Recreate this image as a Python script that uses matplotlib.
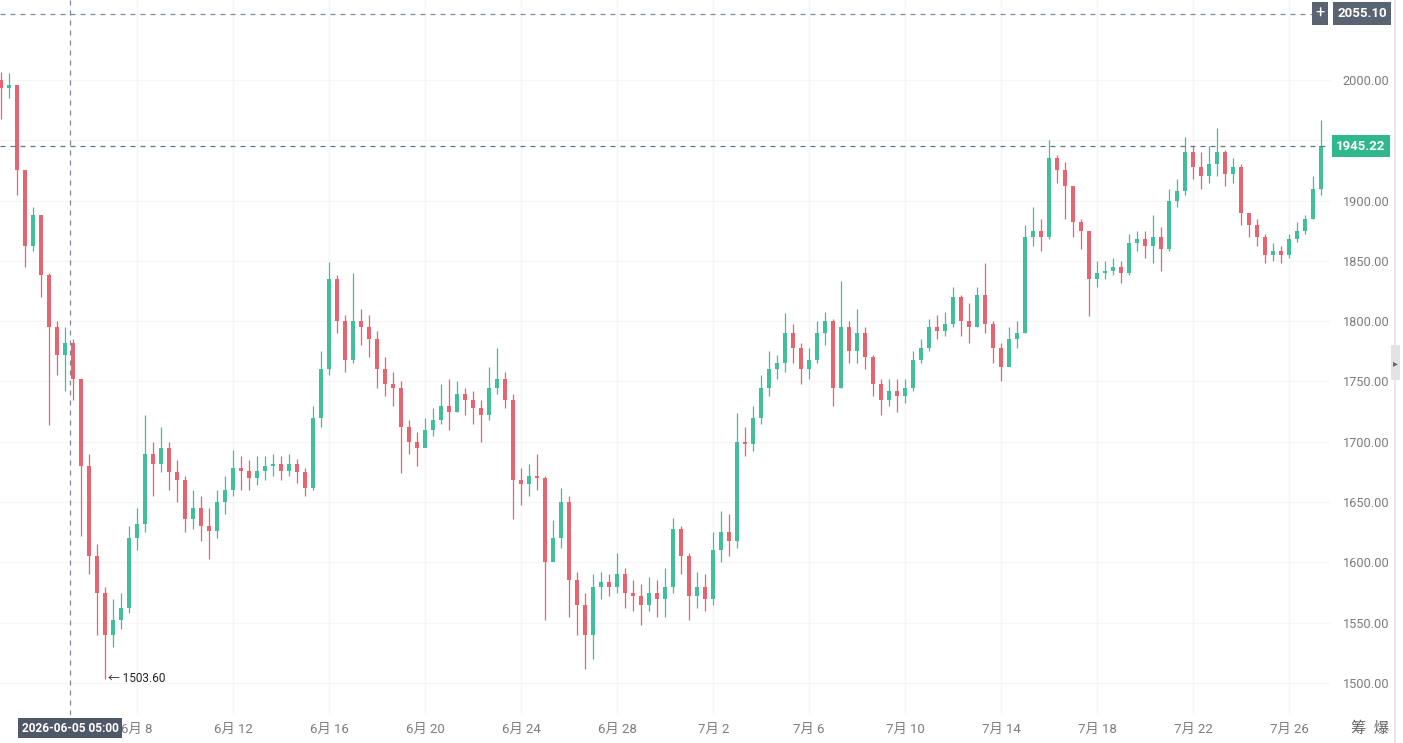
import numpy as np
import pandas as pd
import matplotlib
matplotlib.use("Agg")
import matplotlib.pyplot as plt
import matplotlib.dates as mdates
import matplotlib.transforms as mtransforms
from matplotlib.patches import Rectangle

plt.rcParams["font.family"] = ["Roboto", "Noto Sans CJK SC", "DejaVu Sans"]

# 8-hour candles, starting 2026-06-02 08:00
START = pd.Timestamp("2026-06-02 08:00")
first_open = 2000.0
close = [
    1993, 1996, 1925, 1862, 1888, 1838, 1795, 1772, 1782, 1752,
    1680, 1605, 1575, 1540, 1552, 1562, 1620, 1632, 1690, 1682,
    1695, 1675, 1668, 1636, 1645, 1630, 1626, 1650, 1660, 1678,
    1676, 1670, 1676, 1680, 1682, 1676, 1682, 1675, 1662, 1720,
    1760, 1835, 1800, 1768, 1800, 1795, 1785, 1760, 1748, 1745,
    1712, 1700, 1695, 1710, 1718, 1730, 1725, 1740, 1735, 1728,
    1722, 1745, 1752, 1735, 1668, 1665, 1672, 1670, 1600, 1620,
    1650, 1585, 1565, 1540, 1580, 1584, 1580, 1590, 1575, 1572,
    1565, 1575, 1570, 1580, 1628, 1605, 1572, 1580, 1570, 1610,
    1625, 1618, 1700, 1698, 1720, 1745, 1760, 1765, 1790, 1778,
    1760, 1768, 1790, 1800, 1745, 1795, 1775, 1790, 1770, 1748,
    1735, 1742, 1738, 1745, 1768, 1778, 1795, 1792, 1798, 1820,
    1800, 1795, 1822, 1798, 1778, 1762, 1785, 1790, 1870, 1875,
    1870, 1935, 1925, 1912, 1882, 1875, 1835, 1840, 1842, 1845,
    1840, 1865, 1868, 1862, 1870, 1860, 1900, 1908, 1940, 1928,
    1920, 1930, 1940, 1922, 1928, 1890, 1880, 1870, 1855, 1858,
    1855, 1868, 1875, 1885, 1910, 1945.22,
]
high = [
    2007, 2006, 1990, 1915, 1895, 1875, 1840, 1800, 1795, 1785,
    1752, 1690, 1615, 1580, 1570, 1575, 1630, 1645, 1722, 1700,
    1712, 1700, 1685, 1672, 1660, 1655, 1645, 1660, 1672, 1693,
    1688, 1685, 1688, 1688, 1690, 1688, 1690, 1686, 1678, 1730,
    1775, 1849, 1838, 1805, 1840, 1810, 1805, 1792, 1770, 1758,
    1750, 1718, 1708, 1720, 1728, 1748, 1752, 1750, 1745, 1742,
    1735, 1762, 1778, 1758, 1740, 1678, 1682, 1690, 1672, 1635,
    1662, 1655, 1592, 1575, 1590, 1592, 1590, 1608, 1595, 1585,
    1582, 1588, 1585, 1595, 1637, 1630, 1608, 1592, 1590, 1625,
    1643, 1640, 1724, 1712, 1730, 1755, 1775, 1772, 1807, 1798,
    1782, 1778, 1800, 1808, 1802, 1833, 1800, 1810, 1795, 1772,
    1752, 1752, 1752, 1752, 1775, 1785, 1802, 1805, 1808, 1828,
    1822, 1815, 1828, 1848, 1800, 1782, 1795, 1800, 1880, 1895,
    1885, 1950, 1938, 1932, 1900, 1885, 1870, 1850, 1850, 1852,
    1850, 1872, 1875, 1875, 1888, 1878, 1910, 1918, 1953, 1945,
    1940, 1945, 1960, 1942, 1935, 1930, 1890, 1885, 1872, 1865,
    1862, 1872, 1882, 1888, 1920, 1967,
]
low = [
    1968, 1985, 1905, 1845, 1858, 1820, 1714, 1755, 1742, 1735,
    1622, 1590, 1540, 1503.6, 1530, 1545, 1558, 1610, 1625, 1655,
    1675, 1660, 1650, 1625, 1628, 1618, 1603, 1620, 1640, 1655,
    1660, 1660, 1664, 1668, 1672, 1668, 1672, 1666, 1655, 1660,
    1712, 1755, 1790, 1758, 1765, 1780, 1770, 1745, 1738, 1730,
    1674, 1690, 1680, 1698, 1705, 1715, 1710, 1725, 1722, 1715,
    1700, 1718, 1740, 1728, 1636, 1648, 1655, 1660, 1552, 1605,
    1612, 1555, 1540, 1512, 1520, 1570, 1572, 1575, 1562, 1560,
    1548, 1560, 1555, 1555, 1575, 1590, 1552, 1562, 1560, 1565,
    1600, 1605, 1612, 1688, 1692, 1715, 1738, 1752, 1758, 1765,
    1748, 1752, 1765, 1780, 1730, 1745, 1765, 1765, 1760, 1738,
    1722, 1730, 1725, 1732, 1742, 1765, 1775, 1785, 1788, 1795,
    1788, 1782, 1795, 1790, 1765, 1750, 1765, 1778, 1790, 1862,
    1858, 1868, 1915, 1885, 1870, 1860, 1804, 1828, 1835, 1838,
    1832, 1838, 1858, 1852, 1848, 1842, 1858, 1895, 1905, 1918,
    1910, 1915, 1920, 1912, 1915, 1880, 1870, 1862, 1848, 1850,
    1848, 1852, 1866, 1872, 1885, 1905,
]

tick_dates = ["2026-06-08", "2026-06-12", "2026-06-16", "2026-06-20", "2026-06-24",
              "2026-06-28", "2026-07-02", "2026-07-06", "2026-07-10", "2026-07-14",
              "2026-07-18", "2026-07-22", "2026-07-26"]
price_ticks = [1500, 1550, 1600, 1650, 1700, 1750, 1800, 1850, 1900, 1950, 2000]
last_price = 1945.22
cross_price = 2055.10
cross_time = "2026-06-05 05:00"
low_price = 1503.60

UP = "#40bf9a"
DOWN = "#e4646f"

W, H = 1403, 743
fig = plt.figure(figsize=(W / 100, H / 100), dpi=100)
fig.patch.set_facecolor("white")
ax = fig.add_axes([0, 28 / H, 1330 / W, 715 / H])
ax.set_facecolor("white")

t = pd.date_range(START, periods=len(close), freq="8h")
x = mdates.date2num(t)
c = np.array(close, float)
o = np.concatenate(([first_open], c[:-1]))
h = np.array(high, float)
l = np.array(low, float)
up = c >= o
cols = np.where(up, UP, DOWN)

ax.vlines(x, l, h, colors=cols, lw=0.9, zorder=3)
body_lo = np.minimum(o, c)
body_h = np.maximum(np.abs(c - o), 0.8)
ax.bar(x, body_h, bottom=body_lo, width=0.15, color=cols, lw=0, zorder=4)

# axis limits: 24 px per day, 1.206 px per price unit
x0 = mdates.date2num(START)
ax.set_xlim(x0 - 0.05, x0 + 1330 / 24 - 0.05)
ax.set_ylim(1500 - 32 / 1.206, 2000 + 80 / 1.206)

for s in ax.spines.values():
    s.set_visible(False)
ax.set_yticks(price_ticks)
ax.yaxis.tick_right()
ax.set_yticklabels([f"{p:.2f}" for p in price_ticks], color="#7c7c7c", fontsize=9.2)
ax.tick_params(axis="y", length=0, pad=9)
tx = mdates.date2num(pd.to_datetime(tick_dates))
ax.set_xticks(tx)
ax.set_xticklabels([f"{d.month}月 {d.day}" for d in pd.to_datetime(tick_dates)],
                   color="#7c7c7c", fontsize=9.5)
ax.tick_params(axis="x", length=0, pad=6)
ax.grid(True, color="#f6f6f6", lw=1.0, zorder=0)

# crosshair + last price lines
ax.axhline(cross_price, color="#7f8a96", lw=0.9, ls=(0, (4, 4)), zorder=5)
ax.axhline(last_price, color="#5d7a84", lw=0.9, ls=(0, (4, 4)), zorder=5)
ax.axvline(mdates.date2num(pd.Timestamp(cross_time)), color="#7f8a96", lw=0.9,
           ls=(0, (4, 4)), zorder=5)

ilow = int(np.argmin(l))
ax.annotate(f"← {low_price:.2f}", (x[ilow], low_price), xytext=(2, 0),
            textcoords="offset points", fontsize=8.5, color="#222222",
            va="center", ha="left", zorder=6)

# right-side labels
tr = mtransforms.blended_transform_factory(fig.transFigure, ax.transData)
fig.text(1362 / W, cross_price, f"{cross_price:.2f}", transform=tr, ha="center", va="center",
         color="white", fontsize=9.5, fontweight="bold",
         bbox=dict(boxstyle="square,pad=0.35", fc="#5a6372", ec="none"))
fig.text(1320 / W, cross_price, "+", transform=tr, ha="center", va="center",
         color="white", fontsize=12,
         bbox=dict(boxstyle="square,pad=0.22", fc="#5a6372", ec="none"))
fig.text(1361 / W, last_price, f"{last_price:.2f}", transform=tr, ha="center", va="center",
         color="white", fontsize=9.5, fontweight="bold",
         bbox=dict(boxstyle="square,pad=0.35", fc="#2fb88c", ec="none"))

# bottom crosshair time label
trx = mtransforms.blended_transform_factory(ax.transData, fig.transFigure)
fig.text(mdates.date2num(pd.Timestamp(cross_time)), 1 - 728 / H, cross_time, transform=trx,
         ha="center", va="center", color="white", fontsize=8.6, fontweight="bold",
         bbox=dict(boxstyle="square,pad=0.28", fc="#4f5866", ec="none"))

fig.text(1370 / W, 1 - 729 / H, "筹  爆", ha="center", va="center", color="#666666",
         fontsize=11)

# right edge strip
fig.add_artist(plt.Line2D([1395 / W, 1395 / W], [0, 1], color="#e4e4e4", lw=1.2))
fig.add_artist(Rectangle((1391 / W, 1 - 380 / H), 9 / W, 35 / H, fc="#e3e3e3", ec="none"))
fig.text(1395.5 / W, 1 - 363 / H, "▸", ha="center", va="center", color="#666666", fontsize=7)

fig.savefig("out.png", dpi=100)
